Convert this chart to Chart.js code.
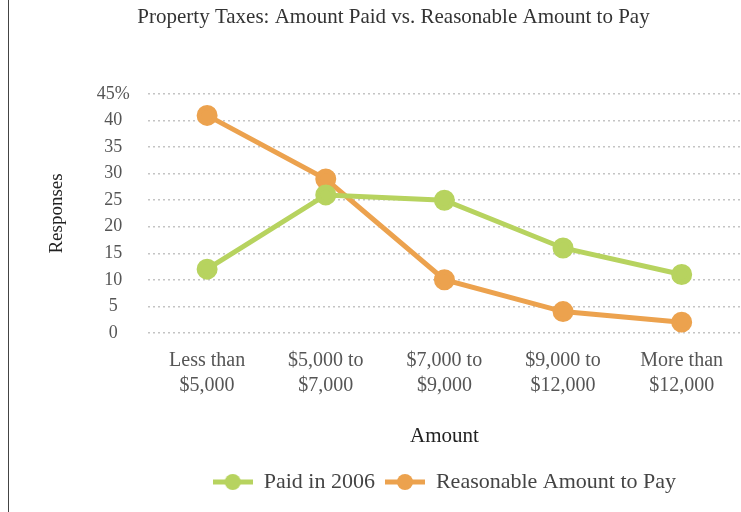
<!DOCTYPE html>
<html>
<head>
<meta charset="utf-8">
<script src="https://cdn.jsdelivr.net/npm/chart.js@4.4.1/dist/chart.umd.min.js"></script>
<style>
  html, body { margin: 0; padding: 0; background: #fff; }
  #wrap { position: relative; width: 741px; height: 512px; }
  #edge { position: absolute; left: 8px; top: 0; width: 1px; height: 512px; background: #444; }
</style>
</head>
<body>
<div id="wrap">
  <div id="edge"></div>
  <canvas id="myChart" width="741" height="512"></canvas>
</div>
<script>
// Amount brackets and response percentages
const categories = [['Less than', '$5,000'], ['$5,000 to', '$7,000'], ['$7,000 to', '$9,000'], ['$9,000 to', '$12,000'], ['More than', '$12,000']];
const paid2006 = [12, 26, 25, 16, 11];
const reasonable = [41, 29, 10, 4, 2];
const seriesNames = ['Paid in 2006', 'Reasonable Amount to Pay'];
const seriesColors = ['#b7d35f', '#eca24e'];

const serif = "'Liberation Serif', 'DejaVu Serif', serif";

// legend marker: short line with a dot on it
function legendMarker(color) {
  const c = document.createElement('canvas');
  c.width = 40;
  c.height = 18;
  const g = c.getContext('2d');
  g.strokeStyle = color;
  g.lineWidth = 5;
  g.beginPath();
  g.moveTo(0, 9);
  g.lineTo(40, 9);
  g.stroke();
  g.fillStyle = color;
  g.beginPath();
  g.arc(20, 9, 8, 0, Math.PI * 2);
  g.fill();
  return c;
}

const ctx = document.getElementById('myChart');

const myChart = new Chart(ctx, {
  type: 'line',
  data: {
    labels: categories,
    datasets: [{
      label: seriesNames[0],
      data: paid2006,
      borderColor: seriesColors[0],
      backgroundColor: seriesColors[0],
      borderWidth: 5,
      pointRadius: 8,
      pointHoverRadius: 8
    }, {
      label: seriesNames[1],
      data: reasonable,
      borderColor: seriesColors[1],
      backgroundColor: seriesColors[1],
      borderWidth: 5,
      pointRadius: 8,
      pointHoverRadius: 8
    }]
  },
  options: {
    responsive: false,
    animation: false,
    layout: {
      autoPadding: false,
      padding: { left: 46, right: 0, top: 3, bottom: 9 }
    },
    plugins: {
      title: {
        display: true,
        text: 'Property Taxes: Amount Paid vs. Reasonable Amount to Pay',
        color: '#333',
        font: { family: serif, size: 21, weight: 'normal' },
        padding: { top: 2, bottom: 64 }
      },
      legend: {
        position: 'bottom',
        fullSize: false,
        labels: {
          color: '#444',
          font: { family: serif, size: 22 },
          usePointStyle: true,
          pointStyleWidth: 40,
          padding: 10,
          generateLabels: (chart) => chart.data.datasets.map((ds, i) => ({
            text: ds.label,
            fillStyle: ds.borderColor,
            strokeStyle: ds.borderColor,
            lineWidth: 0,
            pointStyle: legendMarker(seriesColors[i]),
            datasetIndex: i,
            hidden: false,
            fontColor: '#444'
          }))
        }
      },
      tooltip: { enabled: false }
    },
    scales: {
      x: {
        offset: true,
        border: { display: false },
        grid: { display: false },
        ticks: {
          color: '#555',
          font: { family: serif, size: 20, lineHeight: 1.25 },
          maxRotation: 0,
          padding: 7
        },
        title: {
          display: true,
          text: 'Amount',
          color: '#222',
          font: { family: serif, size: 21 },
          padding: { top: 19, bottom: 12 }
        }
      },
      y: {
        min: 0,
        max: 45,
        border: { display: false, dash: [2, 3] },
        grid: {
          color: '#c4c4c4',
          lineWidth: 1.5,
          drawTicks: false
        },
        ticks: {
          stepSize: 5,
          autoSkip: false,
          color: '#555',
          font: { family: serif, size: 18 },
          crossAlign: 'center',
          padding: 18,
          callback: (v) => v === 45 ? v + '%' : v
        },
        title: {
          display: true,
          text: 'Responses',
          color: '#222',
          font: { family: serif, size: 19 },
          padding: { top: 0, bottom: 10 }
        }
      }
    }
  }
});
</script>
</body>
</html>
